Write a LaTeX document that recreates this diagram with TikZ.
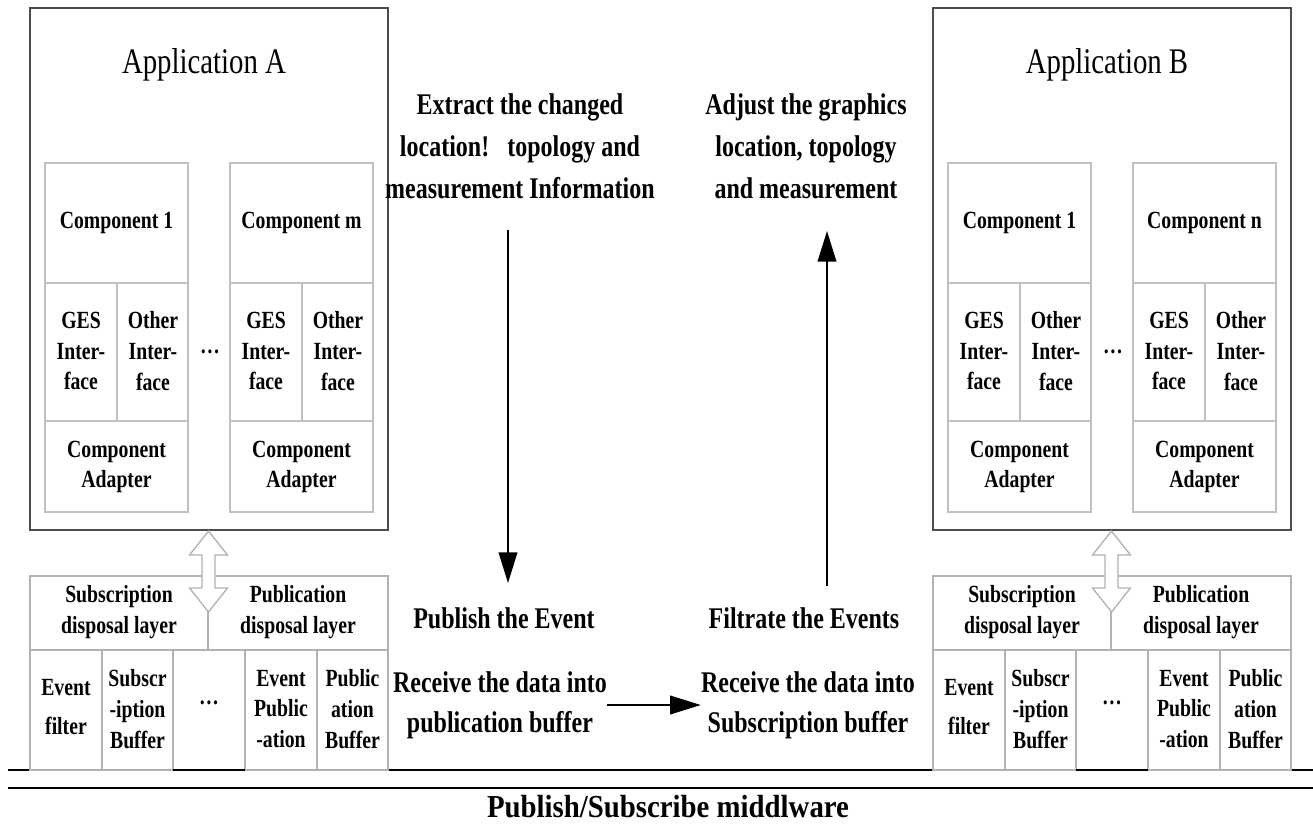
\documentclass[tikz,border=0pt]{standalone}
\usepackage{fontspec}
\setmainfont{Liberation Serif}[FakeStretch=0.8]
\newfontfamily\mwfont{Liberation Serif}[FakeStretch=0.9]
\usetikzlibrary{arrows.meta}

\begin{document}
\begin{tikzpicture}[x=0.75pt, y=-0.75pt,
    frame/.style={draw=black!70, line width=1.5pt},
    cell/.style={draw=black!25, line width=1pt},
    layer/.style={draw=black!30, line width=1.5pt},
    boxtext/.style={font=\fontsize{18.5}{23}\selectfont\bfseries, align=center, inner sep=0pt},
    flowtext/.style={font=\fontsize{22.5}{31.5}\selectfont\bfseries, align=center, inner sep=0pt},
    flow/.style={line width=1.3pt, -{Triangle[length=23pt, width=14pt]}}]
  \useasboundingbox (0,0) rectangle (1313,828);

  % middleware
  \draw[line width=2.2pt] (8,770) -- (1313,770) (8,788) -- (1313,788);
  \node[font=\mwfont\fontsize{24}{28}\selectfont\bfseries, inner sep=0pt] (mw) at (668,807) {Publish/Subscribe middlware};

  % the two applications
  \foreach \appname/\dx/\compn in {A/0/m, B/903/n} {
    \begin{scope}[shift={(\dx,0)}]
      \draw[frame] (30,8) rectangle (388,530);
      \node[font=\fontsize{27}{32}\selectfont, inner sep=0pt] (app\appname) at (204,65) {Application \appname};

      \foreach \cx/\cl in {45/1, 230/\compn} {
        \draw[cell] (\cx,163) rectangle ++(143,349);
        \draw[cell] (\cx,283) -- ++(143,0) (\cx,421) -- ++(143,0) (\cx+72,283) -- (\cx+72,421);
        \node[boxtext] (comp\appname\cl) at (\cx+71.5,223) {Component \cl};
        \node[boxtext] (ges\appname\cl) at (\cx+36,351) {GES\\Inter-\\face};
        \node[boxtext] (other\appname\cl) at (\cx+108,351) {Other\\Inter-\\face};
        \node[boxtext] (adapt\appname\cl) at (\cx+71.5,467) {Component\\Adapter};
      }
      \node[boxtext] (cdots\appname) at (210,352) {\dots};

      % disposal layer
      \draw[layer] (30,576) rectangle (388,770);
      \draw[layer] (30,650) -- (388,650) (208,590) -- (208,650)
                   (102,650) -- (102,770) (173,650) -- (173,770)
                   (245,650) -- (245,770) (317,650) -- (317,770);
      \draw[line width=1.8pt] (173,770) -- (245,770);
      \draw[layer, line width=1pt, fill=white] (208.5,531) -- (227.5,555) -- (215,555) -- (215,588)
            -- (227.5,588) -- (208.5,612) -- (189.5,588) -- (202,588) -- (202,555) -- (189.5,555) -- cycle;

      \node[boxtext] (sub\appname) at (119,612) {Subscription\\disposal layer};
      \node[boxtext] (pub\appname) at (298,612) {Publication\\disposal layer};
      \node[boxtext, font=\fontsize{18.5}{29}\selectfont\bfseries] (filter\appname) at (66,707) {Event\\filter};
      \node[boxtext] (subbuf\appname) at (137.5,709) {Subscr\\-iption\\Buffer};
      \node[boxtext] (ldots\appname) at (209,703) {\dots};
      \node[boxtext] (evpub\appname) at (281,709) {Event\\Public\\-ation};
      \node[boxtext] (pubbuf\appname) at (352.5,709) {Public\\ation\\Buffer};
    \end{scope}
  }

  % steps between the applications
  \node[flowtext] (extract) at (520,146) {Extract the changed\\location!\ \ \ topology and\\measurement Information};
  \node[flowtext] (adjust) at (806,146) {Adjust the graphics\\location, topology\\and measurement};
  \node[flowtext] (publish) at (504,618) {Publish the Event};
  \node[flowtext] (filtrate) at (804,618) {Filtrate the Events};
  \node[flowtext, font=\fontsize{22.5}{30}\selectfont\bfseries] (recvpub) at (500,705) {Receive the data into\\publication buffer};
  \node[flowtext, font=\fontsize{22.5}{30}\selectfont\bfseries] (recvsub) at (808,705) {Receive the data into\\Subscription buffer};

  \coordinate (dtop) at (508,230);
  \coordinate (dbot) at (508,583);
  \coordinate (ubot) at (827,586);
  \coordinate (utop) at (827,231);
  \draw[flow] (dtop) -- (dbot);
  \draw[flow] (ubot) -- (utop);
  \draw[flow] (recvpub.east) -- (recvsub.west);
\end{tikzpicture}
\end{document}
